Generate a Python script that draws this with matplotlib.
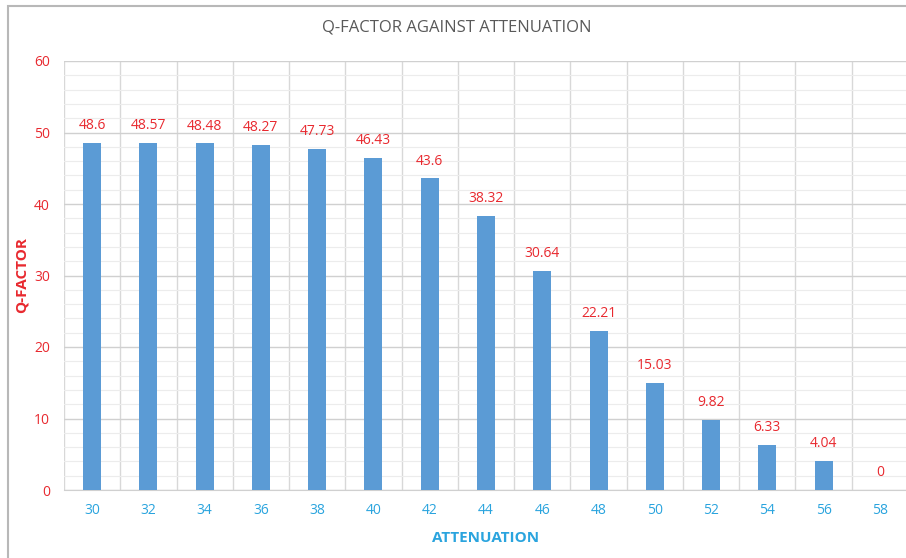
import matplotlib
matplotlib.use("Agg")
import matplotlib.pyplot as plt
from matplotlib.patches import Rectangle
import numpy as np

attenuation = [30, 32, 34, 36, 38, 40, 42, 44, 46, 48, 50, 52, 54, 56, 58]
q_factor = [48.6, 48.57, 48.48, 48.27, 47.73, 46.43, 43.6, 38.32, 30.64, 22.21, 15.03, 9.82, 6.33, 4.04, 0]
labels = ["48.6", "48.57", "48.48", "48.27", "47.73", "46.43", "43.6", "38.32", "30.64", "22.21", "15.03", "9.82", "6.33", "4.04", "0"]

W, H = 906, 558
fig = plt.figure(figsize=(W / 100, H / 100), dpi=100)
plt.rcParams['font.family'] = ['Open Sans', 'DejaVu Sans']

# outer frame
fig.patches.append(Rectangle((8 / W, -0.05), 1.1, 1 - 6 / H + 0.05, transform=fig.transFigure,
                             fill=False, edgecolor='#b8b8b8', linewidth=1.5))

L, R, T, B = 64, 908, 61, 490
ax = fig.add_axes([L / W, 1 - B / H, (R - L) / W, (B - T) / H])
x = np.arange(len(attenuation))
ax.bar(x, q_factor, width=0.32, color='#5b9bd5', zorder=3)

for xi, v, lab in zip(x, q_factor, labels):
    ax.annotate(lab, (xi, v), xytext=(0, 7), textcoords='offset points', ha='center', va='bottom',
                color='#e8292f', fontsize=10)

ax.set_xlim(-0.5, len(x) - 0.5)
ax.set_ylim(0, 60)
ax.set_yticks(np.arange(0, 61, 10))
ax.set_yticks(np.arange(0, 61, 2), minor=True)
ax.set_xticks(x)
ax.set_xticklabels([str(a) for a in attenuation])
ax.set_xticks(np.arange(-0.5, len(x), 1), minor=True)

ax.grid(axis='y', which='major', color='#d0d0d0', linewidth=1.0, zorder=0)
ax.grid(axis='y', which='minor', color='#ececec', linewidth=0.8, zorder=0)
ax.grid(axis='x', which='minor', color='#d8d8d8', linewidth=1.0, zorder=0)
ax.grid(axis='x', which='major', visible=False)

for s in ['top', 'right', 'left']:
    ax.spines[s].set_visible(False)
ax.spines['bottom'].set_color('#d0d0d0')

ax.tick_params(axis='both', which='both', length=0)
ax.tick_params(axis='y', colors='#e8292f', labelsize=10, pad=10)
ax.tick_params(axis='x', colors='#2aa4de', labelsize=10, pad=9)

ax.set_ylabel('Q-FACTOR', color='#e8292f', fontsize=11, fontweight='bold')
ax.yaxis.set_label_coords((29 - L) / (R - L), 0.5)
ax.set_xlabel('ATTENUATION', color='#2aa4de', fontsize=11, fontweight='bold', labelpad=10)

fig.text(457 / W, 1 - 27 / H, 'Q-FACTOR AGAINST ATTENUATION', ha='center', va='center',
         color='#595959', fontsize=12)

fig.savefig('out.png', dpi=100)
